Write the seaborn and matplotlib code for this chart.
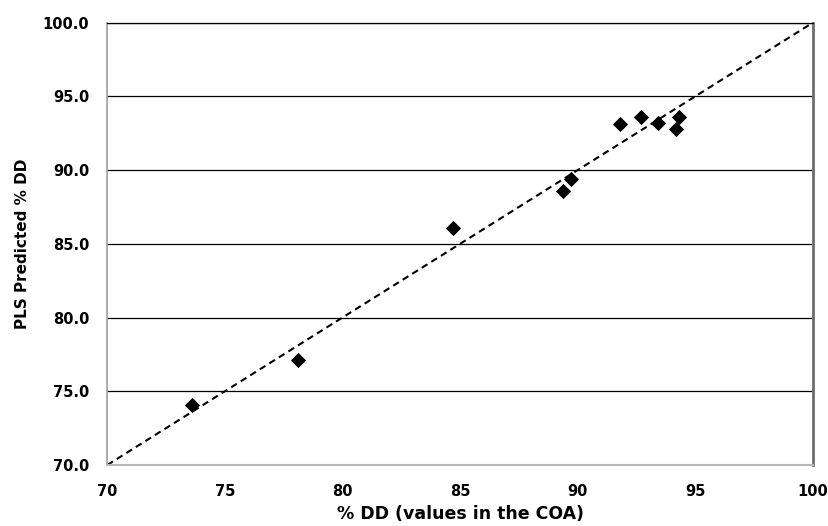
import matplotlib
matplotlib.use("Agg")
import matplotlib.pyplot as plt
import seaborn as sns
import pandas as pd
from matplotlib.ticker import FormatStrFormatter

# Measured %DD (certificate of analysis) vs. PLS-predicted %DD
measured_dd = [73.6, 78.1, 84.7, 89.4, 89.7, 91.8, 92.7, 93.4, 94.3, 94.2]
predicted_dd = [74.1, 77.1, 86.1, 88.6, 89.4, 93.1, 93.6, 93.2, 93.6, 92.8]

# Ideal 1:1 agreement line and axis range
identity = [70, 100]
x_ticks = [70, 75, 80, 85, 90, 95, 100]
y_ticks = [70, 75, 80, 85, 90, 95, 100]

sns.set_theme(style="white")
plt.rcParams["font.family"] = ["DejaVu Sans"]
plt.rcParams["font.weight"] = "bold"

df = pd.DataFrame({"measured": measured_dd, "predicted": predicted_dd})
line_df = pd.DataFrame({"x": identity, "y": identity})

fig = plt.figure(figsize=(8.29, 5.26), dpi=100)
ax = fig.add_axes([0.1294, 0.116, 0.851, 0.8408])

# horizontal gridlines
for yv in y_ticks[1:]:
    ax.axhline(yv, color="#000000", lw=0.9, zorder=1)

sns.lineplot(data=line_df, x="x", y="y", ax=ax, color="black", lw=1.5,
             linestyle=(0, (3.2, 2.2)), zorder=2)
sns.scatterplot(data=df, x="measured", y="predicted", ax=ax, marker="D",
                s=60, color="black", edgecolor="black", linewidth=0, zorder=3)

ax.set_xlim(identity)
ax.set_ylim(identity)
ax.set_xticks(x_ticks)
ax.set_yticks(y_ticks)
ax.yaxis.set_major_formatter(FormatStrFormatter("%.1f"))
ax.tick_params(axis="both", length=0, labelsize=10.5, colors="black")
ax.tick_params(axis="y", pad=13)
ax.tick_params(axis="x", pad=14)
for lbl in ax.get_xticklabels() + ax.get_yticklabels():
    lbl.set_fontweight("bold")

ax.set_xlabel("% DD (values in the COA)", fontsize=12.5, fontweight="bold",
              labelpad=4, color="black")
ax.set_ylabel("PLS Predicted % DD", fontsize=11, fontweight="bold",
              labelpad=9, color="black")

for side, col, lw in [("left", "#a0a0a0", 1.2), ("bottom", "#b8b8b8", 1.5),
                      ("right", "#6e6e6e", 2.0), ("top", "#000000", 0.9)]:
    ax.spines[side].set_color(col)
    ax.spines[side].set_linewidth(lw)

fig.savefig("out.png", dpi=100)
